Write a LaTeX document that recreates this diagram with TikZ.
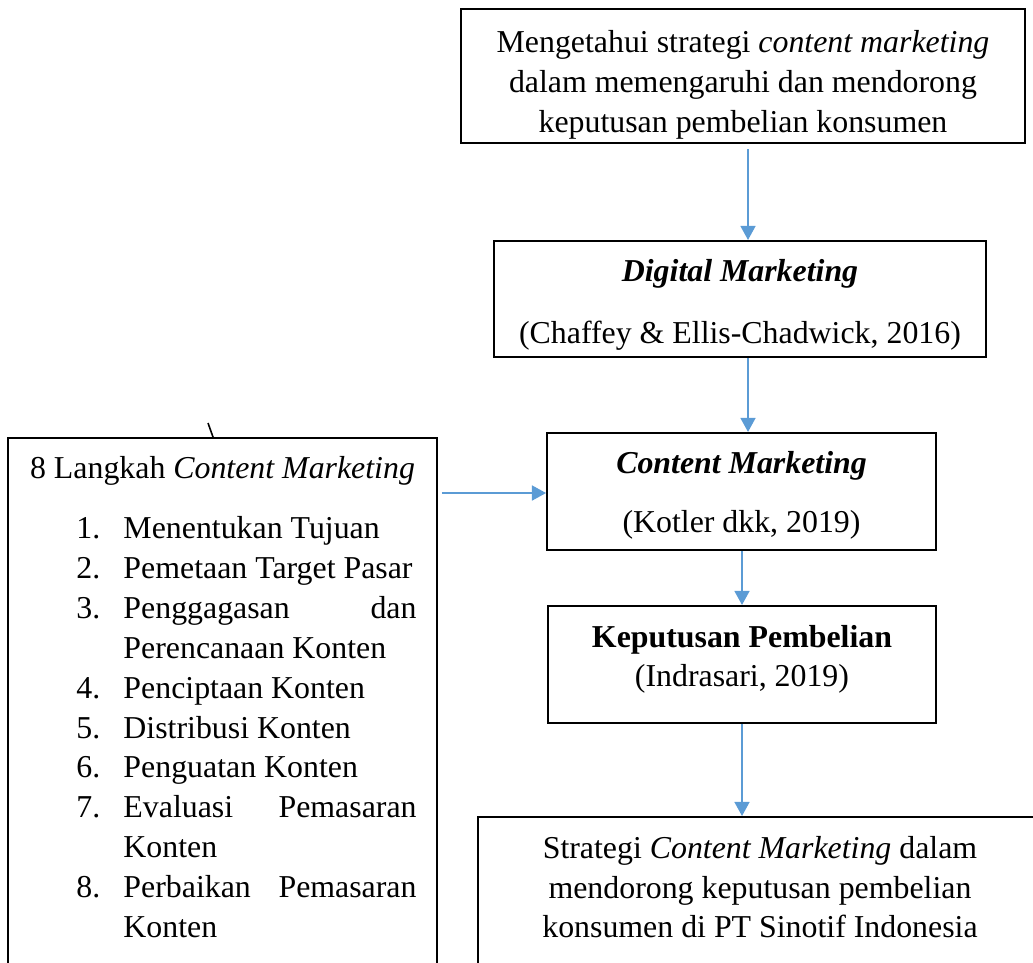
\documentclass[tikz,border=0pt]{standalone}
\usepackage{fontspec}
\setmainfont{Liberation Serif}
\usetikzlibrary{arrows.meta,positioning}
\definecolor{arrowblue}{RGB}{91,155,213}
\newcommand{\stepitem}[2]{\noindent\llap{\makebox[17.7pt][l]{#1.}}#2\par}
\newcommand{\padtop}[1]{\rule{0pt}{#1}}
\newcommand{\padbot}[1]{\rule[-#1]{0pt}{#1}}

\begin{document}
\begin{tikzpicture}[x=0.3767pt,y=-0.3767pt,
        every node/.style={font=\fontsize{12}{15}\selectfont},
        box/.style={rectangle,draw=black,line width=0.75pt,align=center,inner sep=0pt},
        arrow/.style={-{Triangle[length=5.3pt,width=5.6pt]},draw=arrowblue,line width=0.75pt}]
  \clip (0,0) rectangle (1033,962);
  \node[box,minimum width=212.5pt,minimum height=50.5pt] (aim) at (743,76)
    {\padtop{15.1pt}Mengetahui strategi \textit{content marketing}\\dalam memengaruhi dan mendorong\\keputusan pembelian konsumen};
  \node[box,minimum width=185.3pt,minimum height=43.7pt] (digital) at (740,299)
    {\padtop{12.8pt}\textbf{\textit{Digital Marketing}}\\[8.3pt](Chaffey \& Ellis-Chadwick, 2016)};
  \node[box,minimum width=146.5pt,minimum height=44.1pt] (content) at (741.5,491.5)
    {\padtop{11.3pt}\textbf{\textit{Content Marketing}}\\[7.5pt](Kotler dkk, 2019)};
  \node[box,minimum width=146.2pt,minimum height=44.1pt] (decision) at (742,664.5)
    {\textbf{Keputusan Pembelian}\\(Indrasari, 2019)\padbot{6.5pt}};
  \node[box,anchor=north,text width=212.5pt,inner ysep=7.2pt,align=flush center] (result) at (760,816)
    {Strategi \textit{Content Marketing} dalam\\mendorong keputusan pembelian\\konsumen di PT Sinotif Indonesia\padbot{25pt}};
  \node[box,anchor=north west,text width=146.2pt,inner xsep=7.7pt,inner ysep=6.8pt,align=justify] (steps) at (7,437) {%
    {\centering 8 Langkah \textit{Content Marketing}\par}
    \vspace{7.9pt}
    \leftskip=35.8pt \hyphenpenalty=10000 \tolerance=10000
    \stepitem{1}{Menentukan Tujuan}
    \stepitem{2}{Pemetaan Target Pasar}
    \stepitem{3}{Penggagasan dan Perencanaan Konten}
    \stepitem{4}{Penciptaan Konten}
    \stepitem{5}{Distribusi Konten}
    \stepitem{6}{Penguatan Konten}
    \stepitem{7}{Evaluasi Pemasaran Konten}
    \stepitem{8}{Perbaikan Pemasaran Konten\padbot{25pt}}};
  \draw[arrow,shorten <=1.9pt] (aim.south -| 748,0) -- (digital.north -| 748,0);
  \draw[arrow] (digital.south -| 748,0) -- (content.north -| 748,0);
  \draw[arrow] (content.south -| decision.north) -- (decision.north);
  \draw[arrow] (decision.south) -- (decision.south |- result.north);
  \draw[arrow,shorten <=1.5pt] (steps.east |- 0,493) -- (content.west |- 0,493);
  \draw[line width=0.6pt] (steps.north -| 213,0) -- ++(-5,-14);
\end{tikzpicture}
\end{document}
